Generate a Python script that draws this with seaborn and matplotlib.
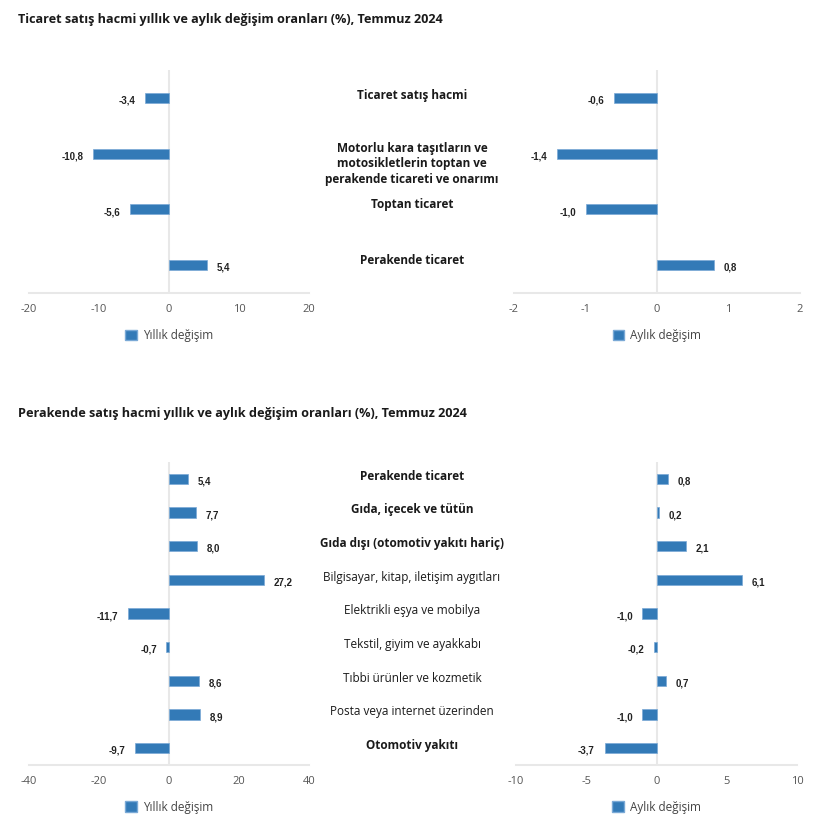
import pandas as pd
import numpy as np
import seaborn as sns
import matplotlib.pyplot as plt
import matplotlib.transforms as mtransforms
from matplotlib.patches import Patch

# Data
top_categories = ["Ticaret satış hacmi",
                  "Motorlu kara taşıtların ve\nmotosikletlerin toptan ve\nperakende ticareti ve onarımı",
                  "Toptan ticaret",
                  "Perakende ticaret"]
top_yillik = [-3.4, -10.8, -5.6, 5.4]
top_aylik = [-0.6, -1.4, -1.0, 0.8]
top_bold = [True, True, True, True]

bottom_categories = ["Perakende ticaret",
                     "Gıda, içecek ve tütün",
                     "Gıda dışı (otomotiv yakıtı hariç)",
                     "Bilgisayar, kitap, iletişim aygıtları",
                     "Elektrikli eşya ve mobilya",
                     "Tekstil, giyim ve ayakkabı",
                     "Tıbbi ürünler ve kozmetik",
                     "Posta veya internet üzerinden",
                     "Otomotiv yakıtı"]
bottom_yillik = [5.4, 7.7, 8.0, 27.2, -11.7, -0.7, 8.6, 8.9, -9.7]
bottom_aylik = [0.8, 0.2, 2.1, 6.1, -1.0, -0.2, 0.7, -1.0, -3.7]
bottom_bold = [True, True, True, False, False, False, False, False, True]

title_top = "Ticaret satış hacmi yıllık ve aylık değişim oranları (%), Temmuz 2024"
title_bottom = "Perakende satış hacmi yıllık ve aylık değişim oranları (%), Temmuz 2024"

BLUE = "#337ab7"
EDGE = "#7aa9d6"
sns.set_style("white")
plt.rcParams['font.family'] = ['Open Sans', 'DejaVu Sans']

fig = plt.figure(figsize=(8.3, 8.32), dpi=100)


def fmt(v):
    return f"{v:.1f}".replace(".", ",")


def draw_panel(rect, cats, vals, xlim, ticks, width, legend_label, legend_y):
    ax = fig.add_axes(rect)
    df = pd.DataFrame({"cat": cats, "val": vals})
    sns.barplot(data=df, x="val", y="cat", orient="h", color=BLUE, saturation=1,
                width=width, ax=ax, edgecolor=EDGE, linewidth=0.5)
    ax.set_xlim(*xlim)
    ax.set_xticks(ticks)
    ax.set_xticklabels([str(t) for t in ticks], fontsize=8, color="#555555")
    ax.tick_params(axis="x", length=0, pad=8)
    ax.set_yticks([])
    ax.set_xlabel("")
    ax.set_ylabel("")
    for s in ["top", "right", "left"]:
        ax.spines[s].set_visible(False)
    ax.spines["bottom"].set_color("#e8e8e8")
    ax.spines["bottom"].set_linewidth(1.5)
    ax.axvline(0, color="#e8e8e8", lw=1.5, zorder=0)
    for i, v in enumerate(vals):
        off = 7 if v >= 0 else -7
        ax.annotate(fmt(v), (v, i), xytext=(off, -2), textcoords="offset points",
                    ha="left" if v >= 0 else "right", va="center",
                    fontsize=7, fontweight="bold", color="#222222",
                    family=["Liberation Sans", "DejaVu Sans"])
    ax.legend(handles=[Patch(facecolor=BLUE, edgecolor=EDGE, label=legend_label)],
              loc="center", bbox_to_anchor=(0.5, legend_y), frameon=False,
              handlelength=1.0, handleheight=1.0, handletextpad=0.5,
              prop={"size": 8.5, "family": ["Open Sans", "DejaVu Sans"]},
              labelcolor="#444444")
    return ax


# Top panels
ax1 = draw_panel([0.0349, 0.6478, 0.3373, 0.268], top_categories, top_yillik,
                 (-20, 20), [-20, -10, 0, 10, 20], 0.18, "Yıllık değişim", -0.19)
ax2 = draw_panel([0.6193, 0.6478, 0.3446, 0.268], top_categories, top_aylik,
                 (-2, 2), [-2, -1, 0, 1, 2], 0.18, "Aylık değişim", -0.19)

# Bottom panels
ax3 = draw_panel([0.0349, 0.0805, 0.3373, 0.3642], bottom_categories, bottom_yillik,
                 (-40, 40), [-40, -20, 0, 20, 40], 0.3, "Yıllık değişim", -0.139)
ax4 = draw_panel([0.6217, 0.0805, 0.3386, 0.3642], bottom_categories, bottom_aylik,
                 (-10, 10), [-10, -5, 0, 5, 10], 0.3, "Aylık değişim", -0.139)

# Category labels in the middle
tr_top = mtransforms.blended_transform_factory(fig.transFigure, ax1.transData)
top_offsets = [-0.05, 0.18, -0.08, -0.09]
for i, (c, b) in enumerate(zip(top_categories, top_bold)):
    fig.text(0.4964, i + top_offsets[i], c, transform=tr_top, ha="center", va="center",
             fontsize=8.5, fontweight="bold" if b else "normal", color="#1a1a1a",
             linespacing=1.25)

tr_bot = mtransforms.blended_transform_factory(fig.transFigure, ax3.transData)
for i, (c, b) in enumerate(zip(bottom_categories, bottom_bold)):
    fig.text(0.4964, i - 0.08, c, transform=tr_bot, ha="center", va="center",
             fontsize=8.5, fontweight="bold" if b else "normal", color="#1a1a1a")

# Titles
fig.text(0.022, 1 - 20 / 832, title_top, ha="left", va="center",
         fontsize=9.1, fontweight="bold", color="#1a1a1a")
fig.text(0.022, 1 - 413 / 832, title_bottom, ha="left", va="center",
         fontsize=9.1, fontweight="bold", color="#1a1a1a")

fig.savefig("out.png", dpi=100, facecolor="white")
